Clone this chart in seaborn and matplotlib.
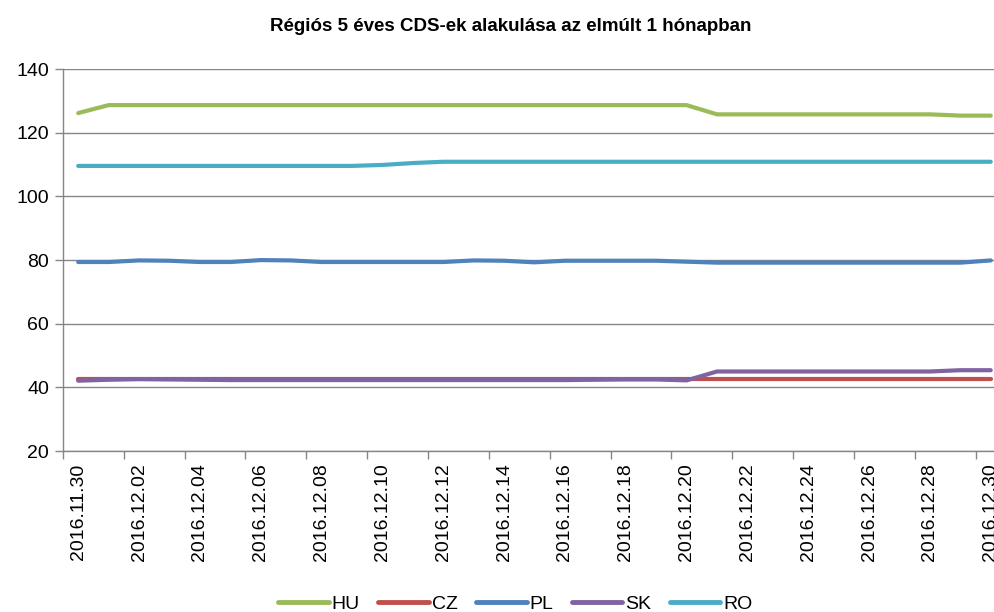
import numpy as np
import pandas as pd
import matplotlib
matplotlib.use("Agg")
import matplotlib.pyplot as plt
import seaborn as sns

# daily dates, 2016.11.30 - 2016.12.30
dates = ["2016.11.30"] + [f"2016.12.{d:02d}" for d in range(1, 31)]

hu = [126.2] + [128.7] * 20 + [125.8] * 8 + [125.4] * 2
cz = [42.7] * 31
pl = [79.4, 79.4, 79.9, 79.8, 79.4, 79.4, 80.0, 79.9, 79.4, 79.4,
      79.4, 79.4, 79.4, 79.9, 79.8, 79.3, 79.8, 79.8, 79.8, 79.8,
      79.5, 79.2, 79.2, 79.2, 79.2, 79.2, 79.2, 79.2, 79.2, 79.2, 79.9]
sk = [42.1, 42.4, 42.6, 42.5, 42.4, 42.3, 42.3, 42.3, 42.3, 42.3,
      42.3, 42.3, 42.3, 42.3, 42.3, 42.3, 42.3, 42.4, 42.5, 42.5,
      42.2, 45.0, 45.0, 45.0, 45.0, 45.0, 45.0, 45.0, 45.0, 45.4, 45.4]
ro = [109.6] * 10 + [109.9, 110.5] + [110.9] * 19

series = {"HU": hu, "CZ": cz, "PL": pl, "SK": sk, "RO": ro}
colors = {"HU": "#9BBB59", "CZ": "#C0504D", "PL": "#4F81BD",
          "SK": "#8064A2", "RO": "#4BACC6"}

df = pd.DataFrame(series)
df["idx"] = np.arange(len(dates))
long_df = df.melt(id_vars="idx", var_name="orszag", value_name="cds")

sns.set_style("white")
plt.rcParams["font.family"] = ["Liberation Sans", "DejaVu Sans"]
plt.rcParams["text.color"] = "black"
plt.rcParams["xtick.labelcolor"] = "black"
plt.rcParams["ytick.labelcolor"] = "black"

fig = plt.figure(figsize=(9.95, 6.12), dpi=100)
ax = fig.add_axes([0.0633, 0.263, 0.9477, 0.624])

sns.lineplot(data=long_df, x="idx", y="cds", hue="orszag", palette=colors,
             linewidth=3, ax=ax, legend=False, solid_capstyle="round")

grid_c = "#868686"
ax.set_xlim(-0.5, len(dates) - 0.5)
ax.set_ylim(20, 140)
ax.set_yticks(range(20, 141, 20))
ax.yaxis.grid(True, color=grid_c, linewidth=1)
ax.set_axisbelow(True)

ax.set_xticks(np.arange(0, len(dates), 2))
ax.set_xticklabels(dates[::2], rotation=90)
ax.set_xticks(np.arange(-0.5, len(dates), 2), minor=True)
ax.tick_params(axis="x", which="major", length=0, pad=9, labelsize=14)
ax.tick_params(axis="x", which="minor", length=6, width=1, color=grid_c,
               direction="out", bottom=True)
ax.tick_params(axis="y", length=6, width=1, color=grid_c, left=True,
               labelsize=14, pad=4)
ax.set_xlabel("")
ax.set_ylabel("")

for side in ["top", "right"]:
    ax.spines[side].set_visible(False)
for side in ["left", "bottom"]:
    ax.spines[side].set_color(grid_c)
    ax.spines[side].set_linewidth(1)

fig.text(0.513, 0.956, "Régiós 5 éves CDS-ek alakulása az elmúlt 1 hónapban",
         ha="center", va="center", fontsize=13.5, fontweight="bold")

handles = [plt.Line2D([], [], color=colors[k], linewidth=3.5,
                      solid_capstyle="round") for k in series]
fig.legend(handles, list(series), loc="center", bbox_to_anchor=(0.518, 0.013),
           ncol=5, frameon=False, fontsize=14, handlelength=2.6,
           handletextpad=0.15, columnspacing=0.95)

fig.savefig("out.png", dpi=100)
